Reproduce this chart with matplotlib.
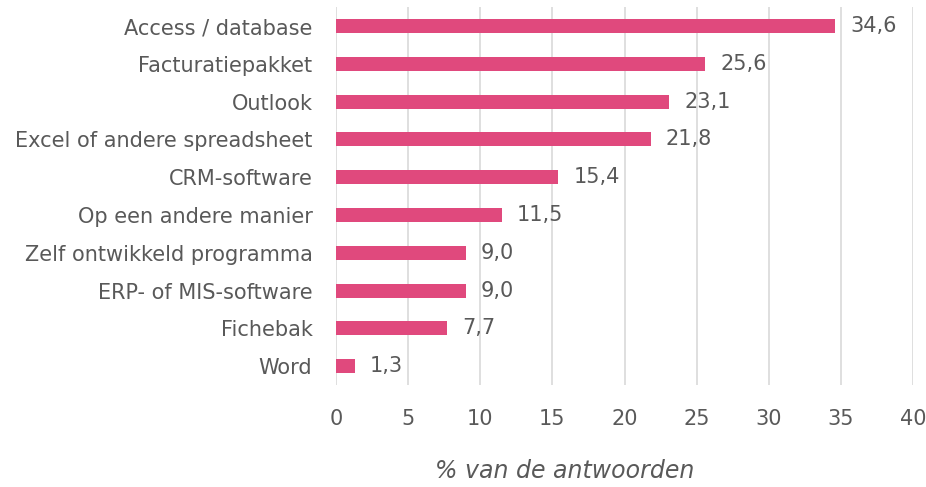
import matplotlib
matplotlib.use('agg')
import matplotlib.pyplot as plt

categories = ["Access / database", "Facturatiepakket", "Outlook", "Excel of andere spreadsheet",
              "CRM-software", "Op een andere manier", "Zelf ontwikkeld programma",
              "ERP- of MIS-software", "Fichebak", "Word"]
values = [34.6, 25.6, 23.1, 21.8, 15.4, 11.5, 9.0, 9.0, 7.7, 1.3]
xticks = [0, 5, 10, 15, 20, 25, 30, 35, 40]

grey = '#595959'
plt.rcParams['font.family'] = ['DejaVu Sans']

fig = plt.figure(figsize=(9.26, 4.87), dpi=100)
ax = fig.add_axes([0.3629, 0.2094, 0.6231, 0.776])

ypos = list(range(len(categories)))
ax.barh(ypos, values, height=0.37, color='#E0497D', zorder=3)
for y, v in zip(ypos, values):
    ax.text(v + 1.05, y, f"{v:.1f}".replace('.', ','), va='center', ha='left',
            fontsize=15, color=grey)

ax.set_yticks(ypos)
ax.set_yticklabels(categories, fontsize=15, color=grey)
ax.set_ylim(len(categories) - 0.5, -0.5)
ax.set_xlim(0, 40)
ax.set_xticks(xticks)
ax.set_xticklabels([str(t) for t in xticks], fontsize=15, color=grey)
ax.tick_params(length=0)
ax.tick_params(axis='y', pad=17)
ax.tick_params(axis='x', pad=17)
ax.grid(axis='x', color='#D9D9D9', linewidth=1.2, zorder=0)
for s in ax.spines.values():
    s.set_visible(False)
ax.set_xlabel('% van de antwoorden', fontsize=17, color=grey, style='italic')
ax.xaxis.set_label_coords(0.397, -0.195)

plt.savefig('out.png', dpi=100)
